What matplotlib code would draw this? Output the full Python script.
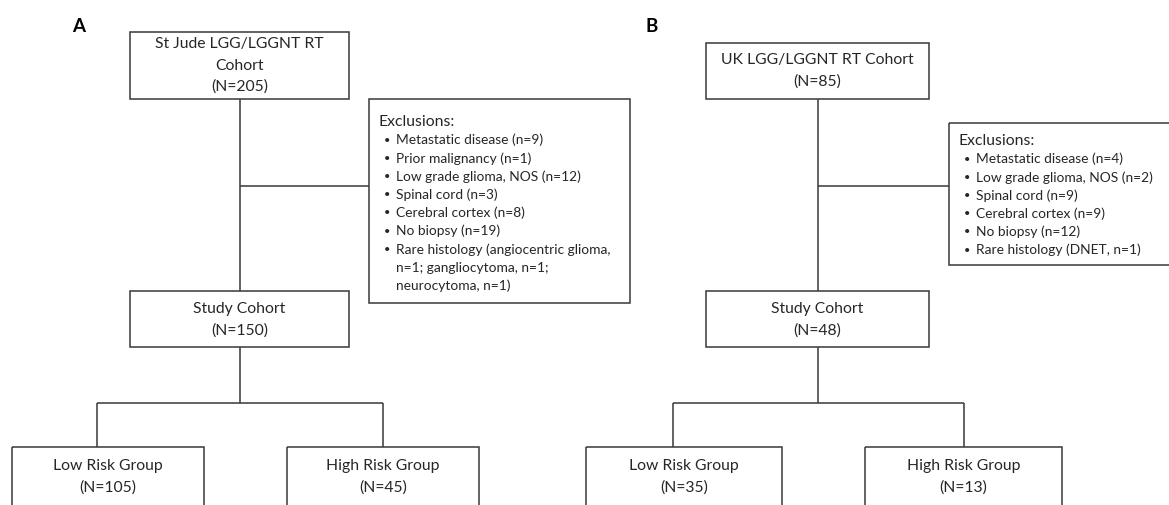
import matplotlib
matplotlib.use("Agg")
from matplotlib import pyplot as plt
from matplotlib.patches import Rectangle

# panel A data
a_top_label = ["St Jude LGG/LGGNT RT", "Cohort"]
a_counts = [205, 150, 105, 45]  # total, study, low risk, high risk
a_exclusions = [
    ["Metastatic disease (n=9)"],
    ["Prior malignancy (n=1)"],
    ["Low grade glioma, NOS (n=12)"],
    ["Spinal cord (n=3)"],
    ["Cerebral cortex (n=8)"],
    ["No biopsy (n=19)"],
    ["Rare histology (angiocentric glioma,", "n=1; gangliocytoma, n=1;", "neurocytoma, n=1)"],
]

# panel B data
b_top_label = ["UK LGG/LGGNT RT Cohort"]
b_counts = [85, 48, 35, 13]
b_exclusions = [
    ["Metastatic disease (n=4)"],
    ["Low grade glioma, NOS (n=2)"],
    ["Spinal cord (n=9)"],
    ["Cerebral cortex (n=9)"],
    ["No biopsy (n=12)"],
    ["Rare histology (DNET, n=1)"],
]

group_labels = ["Study Cohort", "Low Risk Group", "High Risk Group"]

LINE = "#404040"
TXT = "#262626"
FONT = "Lato"
BOX_FS = 11.3
EXC_FS = 9.9
LW = 1.15

fig = plt.figure(figsize=(11.69, 5.05), dpi=100)
ax = fig.add_axes([0, 0, 1, 1])
ax.set_xlim(0, 1169)
ax.set_ylim(505, 0)
ax.axis("off")


def box(x0, y0, x1, y1, lines, y_first, step=21.5):
    ax.add_patch(Rectangle((x0, y0), x1 - x0, y1 - y0, fill=False,
                           edgecolor=LINE, lw=LW))
    for i, s in enumerate(lines):
        ax.text((x0 + x1) / 2, y_first + i * step, s, ha="center", va="center",
                fontsize=BOX_FS, color=TXT, family=FONT)


def line(xs, ys):
    ax.plot(xs, ys, color=LINE, lw=LW, solid_capstyle="butt")


def exclusion_box(x0, y0, x1, y1, items, y_head, step=18.2):
    ax.add_patch(Rectangle((x0, y0), x1 - x0, y1 - y0, fill=False,
                           edgecolor=LINE, lw=LW))
    ax.text(x0 + 10, y_head, "Exclusions:", ha="left", va="center",
            fontsize=BOX_FS, color=TXT, family=FONT)
    y = y_head + step
    for item in items:
        ax.text(x0 + 18, y, "\u2022", ha="center", va="center",
                fontsize=EXC_FS * 0.8, color=TXT, family=FONT)
        for s in item:
            ax.text(x0 + 27, y, s, ha="left", va="center",
                    fontsize=EXC_FS, color=TXT, family=FONT)
            y += step


def panel(top_box, exc_box, top_label, counts, exclusions,
          split_x, low_x, high_x, y_head):
    n_tot, n_study, n_low, n_high = counts
    tb = top_box
    xc = (tb[0] + tb[2]) / 2
    lines_top = top_label + ["(N=%d)" % n_tot]
    first = (tb[1] + tb[3]) / 2 - (len(lines_top) - 1) * 21.5 / 2
    box(tb[0], tb[1], tb[2], tb[3], lines_top, first)
    # stem and branch to exclusions
    line([xc, xc], [tb[3], 291])
    line([xc, exc_box[0]], [186, 186])
    exclusion_box(*exc_box, exclusions, y_head)
    box(tb[0], 291, tb[2], 347, [group_labels[0], "(N=%d)" % n_study], 309)
    # split to risk groups
    lc, hc = split_x
    line([xc, xc], [347, 403])
    line([lc, hc], [403, 403])
    line([lc, lc], [403, 447])
    line([hc, hc], [403, 447])
    box(low_x[0], 447, low_x[1], 530, [group_labels[1], "(N=%d)" % n_low], 466)
    box(high_x[0], 447, high_x[1], 530, [group_labels[2], "(N=%d)" % n_high], 466)


panel((130, 32, 349, 99), (369, 99, 630, 303), a_top_label, a_counts,
      a_exclusions, (97, 383), (12, 204), (287, 479), 122)
panel((706, 43, 929, 99), (949, 123, 1180, 265), b_top_label, b_counts,
      b_exclusions, (673, 964), (586, 782), (865, 1062), 141)

ax.text(79, 26, "A", ha="center", va="center", fontsize=13.5, fontweight="bold",
        color="black", family=FONT)
ax.text(652, 26, "B", ha="center", va="center", fontsize=13.5, fontweight="bold",
        color="black", family=FONT)

fig.savefig("out.png", dpi=100)
